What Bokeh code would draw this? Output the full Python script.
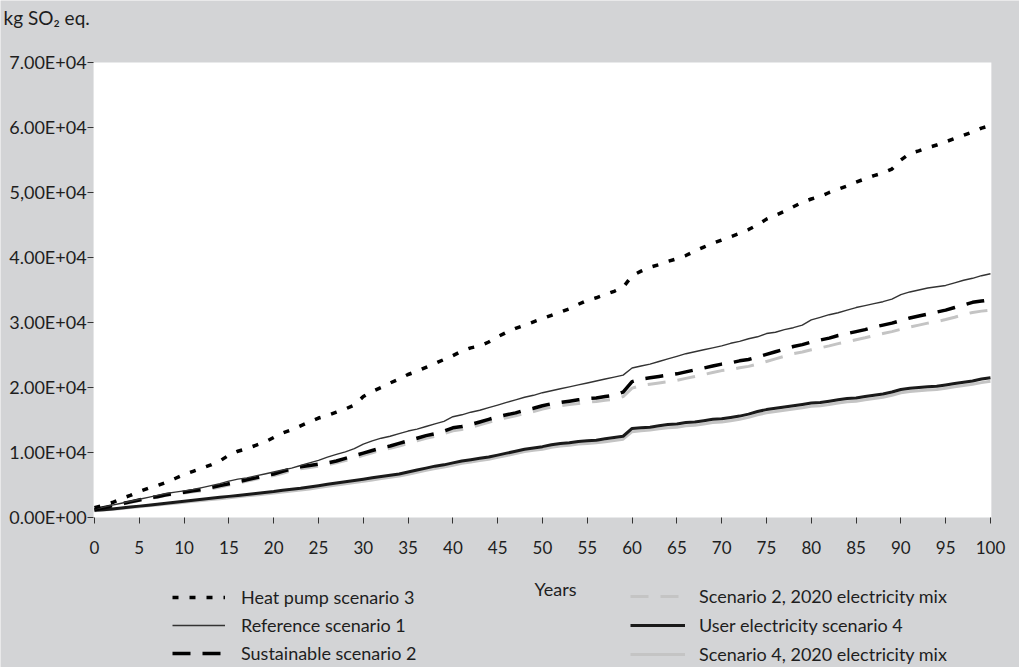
from bokeh.plotting import figure
from bokeh.models import Legend, LegendItem, Label, FixedTicker, Range1d, BoxAnnotation
from bokeh.embed import file_html
from bokeh.resources import INLINE

years = list(range(0, 101))

heat_pump_3 = [1500, 1900, 2300, 2900, 3400, 4000, 4500, 4900, 5400, 6000,
               6600, 7100, 7600, 8100, 8700, 9600, 10200, 10600, 11100, 11600,
               12300, 13000, 13500, 14100, 14700, 15300, 15700, 16200, 16700, 17300,
               18600, 19400, 20000, 20700, 21300, 22000, 22500, 23100, 23700, 24300,
               24900, 25600, 26100, 26400, 27000, 27800, 28500, 29100, 29600, 30100,
               30600, 31100, 31600, 32100, 32800, 33400, 33800, 34300, 34800, 35400,
               37200, 37900, 38500, 38900, 39400, 39800, 40300, 41000, 41600, 42200,
               42700, 43200, 43700, 44300, 45000, 45900, 46500, 47100, 47800, 48500,
               49000, 49400, 50000, 50500, 51000, 51600, 52100, 52600, 53000, 53600,
               55000, 56000, 56400, 56900, 57300, 57800, 58300, 58800, 59300, 59900,
               60300]

reference_1 = [1300, 1600, 1900, 2200, 2500, 2800, 3100, 3400, 3700, 3900,
               4100, 4300, 4600, 4900, 5200, 5600, 5900, 6100, 6400, 6700,
               7000, 7300, 7600, 8000, 8400, 8800, 9300, 9700, 10100, 10600,
               11300, 11800, 12200, 12500, 12900, 13300, 13600, 14000, 14400, 14800,
               15500, 15800, 16200, 16500, 16900, 17300, 17700, 18100, 18500, 18800,
               19200, 19500, 19800, 20100, 20400, 20700, 21000, 21300, 21600, 21900,
               23000, 23300, 23600, 24000, 24400, 24800, 25200, 25500, 25800, 26100,
               26400, 26800, 27100, 27500, 27800, 28300, 28500, 28900, 29200, 29600,
               30400, 30800, 31200, 31500, 31900, 32300, 32600, 32900, 33200, 33600,
               34300, 34700, 35000, 35300, 35500, 35700, 36100, 36500, 36800, 37200,
               37500]

sustainable_2 = [1200, 1500, 1800, 2100, 2400, 2700, 3000, 3200, 3500, 3700,
                 3900, 4100, 4300, 4600, 4900, 5200, 5500, 5800, 6100, 6400,
                 6700, 7100, 7500, 7800, 8000, 8200, 8400, 8700, 9100, 9500,
                 9900, 10300, 10700, 11000, 11400, 11800, 12200, 12600, 12900, 13300,
                 13800, 14000, 14300, 14700, 15100, 15500, 15800, 16100, 16500, 16800,
                 17200, 17500, 17700, 17900, 18100, 18300, 18400, 18600, 18800, 19300,
                 20900, 21300, 21500, 21700, 21900, 22100, 22400, 22700, 23000, 23300,
                 23600, 23800, 24100, 24300, 24700, 25100, 25500, 25900, 26300, 26600,
                 27000, 27300, 27600, 28000, 28300, 28600, 28900, 29300, 29600, 29900,
                 30300, 30700, 31000, 31300, 31600, 31900, 32300, 32700, 33100, 33300,
                 33500]

scenario2_2020 = [1150, 1450, 1700, 2000, 2300, 2600, 2900, 3100, 3400, 3600,
                  3750, 3950, 4100, 4400, 4700, 5000, 5300, 5600, 5900, 6150,
                  6450, 6800, 7200, 7500, 7700, 7900, 8100, 8400, 8750, 9150,
                  9550, 9950, 10350, 10650, 11000, 11400, 11800, 12200, 12500, 12900,
                  13350, 13550, 13850, 14250, 14650, 15050, 15350, 15650, 16000, 16300,
                  16700, 17000, 17200, 17400, 17550, 17750, 17850, 18050, 18200, 18600,
                  19900, 20300, 20500, 20700, 20900, 21100, 21400, 21700, 22000, 22300,
                  22600, 22750, 23050, 23250, 23600, 24000, 24400, 24800, 25200, 25450,
                  25800, 26100, 26400, 26750, 27050, 27350, 27650, 28000, 28300, 28600,
                  28950, 29300, 29600, 29900, 30150, 30450, 30800, 31200, 31550, 31750,
                  31900]

user_elec_4 = [1100, 1200, 1300, 1450, 1600, 1750, 1900, 2050, 2200, 2350,
               2500, 2650, 2800, 2950, 3100, 3250, 3400, 3550, 3700, 3850,
               4000, 4200, 4350, 4500, 4700, 4900, 5100, 5300, 5500, 5700,
               5900, 6100, 6300, 6500, 6700, 7000, 7300, 7600, 7900, 8100,
               8400, 8700, 8900, 9100, 9300, 9600, 9900, 10200, 10500, 10700,
               10900, 11200, 11400, 11500, 11700, 11800, 11900, 12100, 12300, 12500,
               13700, 13800, 13900, 14100, 14300, 14400, 14600, 14700, 14900, 15100,
               15200, 15400, 15600, 15900, 16300, 16600, 16800, 17000, 17200, 17400,
               17600, 17700, 17900, 18100, 18300, 18400, 18600, 18800, 19000, 19300,
               19700, 19900, 20000, 20100, 20200, 20400, 20600, 20800, 21000, 21300,
               21500]

scenario4_2020 = [1050, 1150, 1250, 1380, 1520, 1650, 1800, 1930, 2070, 2200,
                  2350, 2480, 2620, 2750, 2900, 3050, 3200, 3330, 3470, 3620,
                  3750, 3930, 4080, 4220, 4400, 4600, 4800, 5000, 5200, 5380,
                  5580, 5780, 5980, 6180, 6380, 6650, 6950, 7250, 7550, 7750,
                  8050, 8350, 8550, 8750, 8950, 9250, 9550, 9850, 10150, 10330,
                  10500, 10800, 11000, 11100, 11300, 11400, 11500, 11650, 11850, 12050,
                  13200, 13350, 13450, 13650, 13800, 13900, 14100, 14200, 14400, 14600,
                  14700, 14900, 15100, 15400, 15800, 16100, 16300, 16500, 16700, 16900,
                  17100, 17200, 17400, 17600, 17800, 17900, 18100, 18300, 18500, 18800,
                  19200, 19400, 19500, 19600, 19700, 19900, 20100, 20300, 20500, 20750,
                  20950]

x_ticks = list(range(0, 101, 5))
y_ticks = [0, 10000, 20000, 30000, 40000, 50000, 60000, 70000]
y_tick_labels = ["0.00E+00", "1.00E+04", "2.00E+04", "3.00E+04",
                 "4.00E+04", "5,00E+04", "6.00E+04", "7.00E+04"]

FONT = "Lato"
TXT = "#1e1e1e"
BG = "#d3d4d6"

W, H = 1019, 667
p = figure(width=W, height=H, output_backend="svg", toolbar_location=None,
           x_range=Range1d(-10.49, 103.24), y_range=Range1d(-23077, 79538),
           min_border=0, min_border_left=0, min_border_right=0,
           min_border_top=0, min_border_bottom=0)
p.background_fill_color = BG
p.border_fill_color = BG
p.outline_line_color = None
p.grid.visible = False

# white plotting area
p.add_layout(BoxAnnotation(left=-0.1, right=100.1, bottom=0, top=70000,
                           fill_color="white", fill_alpha=1, line_color=None,
                           level="underlay"))

p.xaxis.fixed_location = 0
p.yaxis.fixed_location = -0.1
p.xaxis.ticker = FixedTicker(ticks=x_ticks)
p.yaxis.ticker = FixedTicker(ticks=y_ticks)
p.yaxis.major_label_overrides = {t: l for t, l in zip(y_ticks, y_tick_labels)}
for ax in (p.xaxis, p.yaxis):
    ax.axis_line_color = None
    ax.major_tick_line_color = "#333333"
    ax.major_tick_in = 0
    ax.major_tick_out = 6
    ax.minor_tick_line_color = None
    ax.major_label_text_font = FONT
    ax.major_label_text_color = TXT
p.xaxis.major_label_text_font_size = "17px"
p.yaxis.major_label_text_font_size = "18px"
p.yaxis.major_label_standoff = 1
p.xaxis.major_label_standoff = 18

r_g2 = p.line(years, scenario4_2020, line_color="#c4c4c4", line_width=3)
r_g1 = p.line(years, scenario2_2020, line_color="#c4c4c4", line_width=3, line_dash="18 12")
r_u = p.line(years, user_elec_4, line_color="#1a1a1a", line_width=3)
r_s = p.line(years, sustainable_2, line_color="black", line_width=3.5, line_dash="18 12")
r_r = p.line(years, reference_1, line_color="#333333", line_width=1.4)
r_h = p.line(years, heat_pump_3, line_color="black", line_width=3.5, line_dash="6 11")

def make_legend(items, loc, gw, standoff, spacing):
    return Legend(items=items, location=loc, orientation="vertical",
                  glyph_width=gw, glyph_height=20, label_height=20,
                  label_standoff=standoff, spacing=spacing, padding=0, margin=0,
                  border_line_color=None, background_fill_alpha=0,
                  label_text_font=FONT, label_text_font_size="18px",
                  label_text_color=TXT)

leg1 = make_legend([LegendItem(label="Heat pump scenario 3", renderers=[r_h]),
                    LegendItem(label="Reference scenario 1", renderers=[r_r]),
                    LegendItem(label="Sustainable scenario 2", renderers=[r_s])],
                   (172, 3), 53, 16, 6)
leg2 = make_legend([LegendItem(label="Scenario 2, 2020 electricity mix", renderers=[r_g1]),
                    LegendItem(label="User electricity scenario 4", renderers=[r_u]),
                    LegendItem(label="Scenario 4, 2020 electricity mix", renderers=[r_g2])],
                   (630, 2), 55, 14, 7)
p.add_layout(leg1)
p.add_layout(leg2)

p.add_layout(Label(x=3, y=650, x_units="screen", y_units="screen", text="kg SO₂ eq.",
                   text_font=FONT, text_font_size="19px", text_color=TXT,
                   text_baseline="middle", text_align="left"))
p.add_layout(Label(x=555, y=79, x_units="screen", y_units="screen", text="Years",
                   text_font=FONT, text_font_size="18px", text_color=TXT,
                   text_baseline="middle", text_align="center"))

open("out.html", "w").write(file_html(p, INLINE))
